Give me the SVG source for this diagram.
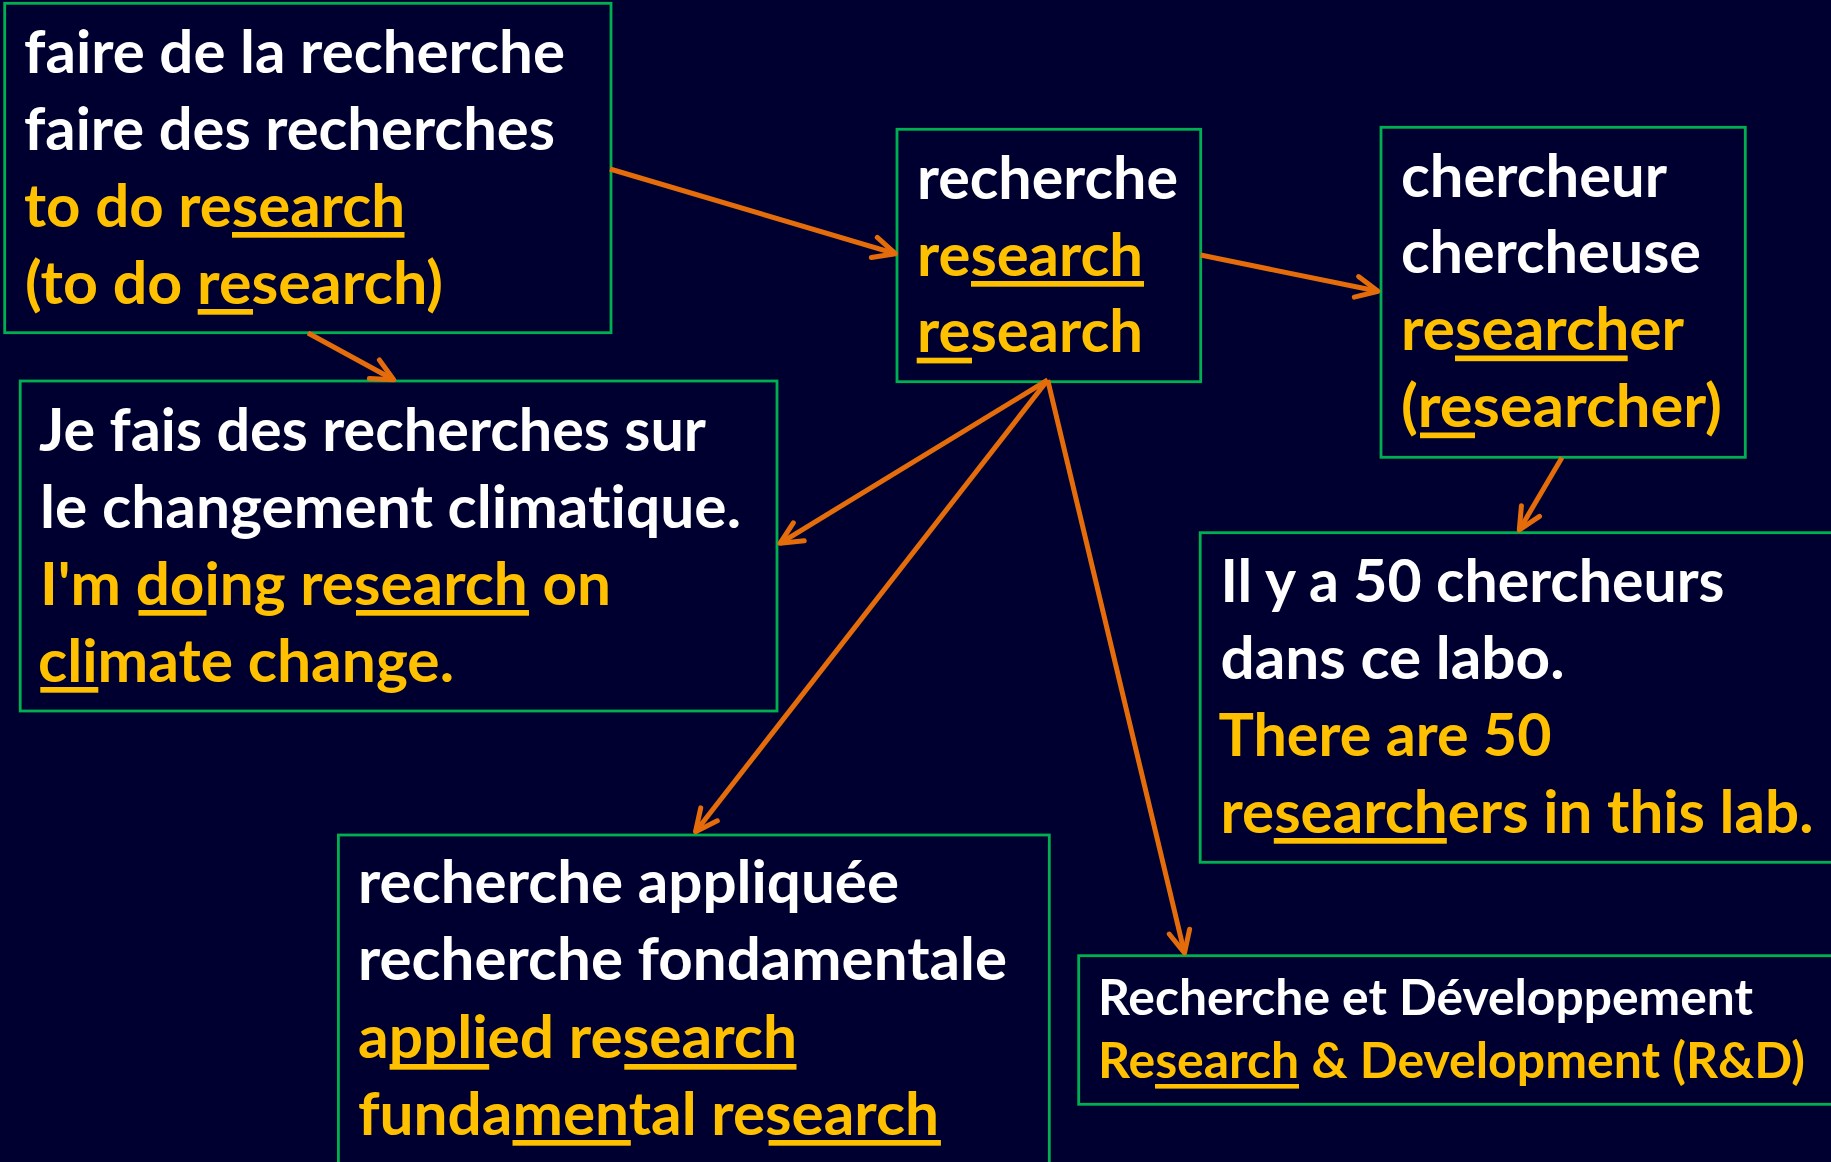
<svg xmlns="http://www.w3.org/2000/svg" width="1831" height="1162" viewBox="0 0 1831 1162">
<style>
.box{fill:none;stroke:#00B050;stroke-width:2.8}
text{font-family:Lato,"Open Sans","Liberation Sans",sans-serif;font-weight:bold;font-size:60px;font-variant-ligatures:none;font-feature-settings:"liga" 0,"clig" 0}
.w{fill:#FFFFFF}
.y{fill:#FFC000}
.s{font-size:49px}
.ul{fill:#FFC000}
.conn{fill:none;stroke:#E46C0A;stroke-width:5;marker-end:url(#arr)}
</style>
<defs>
<marker id="arr" markerUnits="userSpaceOnUse" viewBox="-26 -14 30 28" markerWidth="30" markerHeight="28" refX="0" refY="0" orient="auto">
<path d="M-22,-10.5 L0,0 L-22,10.5" fill="none" stroke="#E46C0A" stroke-width="5" stroke-linecap="round" stroke-linejoin="round"/>
</marker>
</defs>
<rect x="0" y="0" width="1831" height="1162" fill="#000030"/>

<g id="node-faire">
<rect class="box" x="4.7" y="3.3" width="606.3" height="329.4"/>
<text class="w" x="24" y="73" textLength="541" lengthAdjust="spacingAndGlyphs">faire de la recherche</text>
<text class="w" x="24" y="150" textLength="531" lengthAdjust="spacingAndGlyphs">faire des recherches</text>
<text class="y" x="24" y="227" textLength="381" lengthAdjust="spacingAndGlyphs">to do research</text>
<text class="y" x="25" y="304" textLength="418" lengthAdjust="spacingAndGlyphs">(to do research)</text>
<rect class="ul" x="232" y="232" width="172.5" height="5.7"/>
<rect class="ul" x="197.7" y="309" width="55.3" height="5.7"/>
</g>

<g id="node-recherche">
<rect class="box" x="897" y="129.3" width="303.7" height="252.4"/>
<text class="w" x="917" y="199" textLength="261" lengthAdjust="spacingAndGlyphs">recherche</text>
<text class="y" x="917" y="276" textLength="226" lengthAdjust="spacingAndGlyphs">research</text>
<text class="y" x="917" y="352" textLength="226" lengthAdjust="spacingAndGlyphs">research</text>
<rect class="ul" x="971" y="281" width="173" height="5.7"/>
<rect class="ul" x="916.7" y="357.7" width="55.3" height="5.7"/>
</g>

<g id="node-chercheur">
<rect class="box" x="1381" y="127.3" width="364.3" height="330"/>
<text class="w" x="1401" y="197" textLength="266" lengthAdjust="spacingAndGlyphs">chercheur</text>
<text class="w" x="1401" y="273" textLength="300" lengthAdjust="spacingAndGlyphs">chercheuse</text>
<text class="y" x="1401" y="350" textLength="283" lengthAdjust="spacingAndGlyphs">researcher</text>
<text class="y" x="1401" y="427" textLength="321" lengthAdjust="spacingAndGlyphs">(researcher)</text>
<rect class="ul" x="1455" y="355.5" width="172.7" height="5.7"/>
<rect class="ul" x="1420" y="432.5" width="55" height="5.7"/>
</g>

<g id="node-jefais">
<rect class="box" x="20.2" y="381" width="756.8" height="330"/>
<text class="w" x="39" y="451" textLength="667" lengthAdjust="spacingAndGlyphs">Je fais des recherches sur</text>
<text class="w" x="40" y="528" textLength="701" lengthAdjust="spacingAndGlyphs">le changement climatique.</text>
<text class="y" x="40" y="605" textLength="571" lengthAdjust="spacingAndGlyphs">I'm doing research on</text>
<text class="y" x="38" y="682" textLength="416" lengthAdjust="spacingAndGlyphs">climate change.</text>
<rect class="ul" x="138.5" y="610" width="68" height="5.7"/>
<rect class="ul" x="356" y="610" width="173" height="5.7"/>
<rect class="ul" x="40.3" y="687" width="58" height="5.7"/>
</g>

<g id="node-ilya">
<rect class="box" x="1200.2" y="532.7" width="660" height="329.6"/>
<text class="w" x="1220.5" y="602" textLength="504" lengthAdjust="spacingAndGlyphs">Il y a 50 chercheurs</text>
<text class="w" x="1220.5" y="679" textLength="344" lengthAdjust="spacingAndGlyphs">dans ce labo.</text>
<text class="y" x="1218.5" y="756" textLength="333" lengthAdjust="spacingAndGlyphs">There are 50</text>
<text class="y" x="1220.5" y="833" textLength="593" lengthAdjust="spacingAndGlyphs">researchers in this lab.</text>
<rect class="ul" x="1273.8" y="838" width="173" height="5.7"/>
</g>

<g id="node-appliquee">
<rect class="box" x="338.4" y="835" width="710.9" height="360"/>
<text class="w" x="358" y="903" textLength="541" lengthAdjust="spacingAndGlyphs">recherche appliquée</text>
<text class="w" x="358" y="980" textLength="649" lengthAdjust="spacingAndGlyphs">recherche fondamentale</text>
<text class="y" x="358" y="1058" textLength="439" lengthAdjust="spacingAndGlyphs">applied research</text>
<text class="y" x="358" y="1135" textLength="581" lengthAdjust="spacingAndGlyphs">fundamental research</text>
<rect class="ul" x="389.6" y="1064" width="99.6" height="5.7"/>
<rect class="ul" x="624.3" y="1064" width="172.2" height="5.7"/>
<rect class="ul" x="512.5" y="1140" width="118.3" height="5.7"/>
<rect class="ul" x="768.6" y="1140" width="172.3" height="5.7"/>
</g>

<g id="node-rd">
<rect class="box" x="1078.7" y="955.7" width="780" height="148.6"/>
<text class="w s" x="1098" y="1015" textLength="655" lengthAdjust="spacingAndGlyphs">Recherche et Développement</text>
<text class="y s" x="1098" y="1078" textLength="707" lengthAdjust="spacingAndGlyphs">Research &amp; Development (R&amp;D)</text>
<rect class="ul" x="1155" y="1084" width="144" height="4.6"/>
</g>

<g id="connectors">
<path class="conn" d="M610,169 L895.4,253.7"/>
<path class="conn" d="M308,333 L393.7,379.7"/>
<path class="conn" d="M1200.7,255 L1378,291.3"/>
<path class="conn" d="M1562,457.5 L1519.3,530"/>
<path class="conn" d="M1047.7,380 L780,543.3"/>
<path class="conn" d="M1047.7,380 L695.5,831.7"/>
<path class="conn" d="M1047.7,380 L1184.5,953"/>
</g>
</svg>
